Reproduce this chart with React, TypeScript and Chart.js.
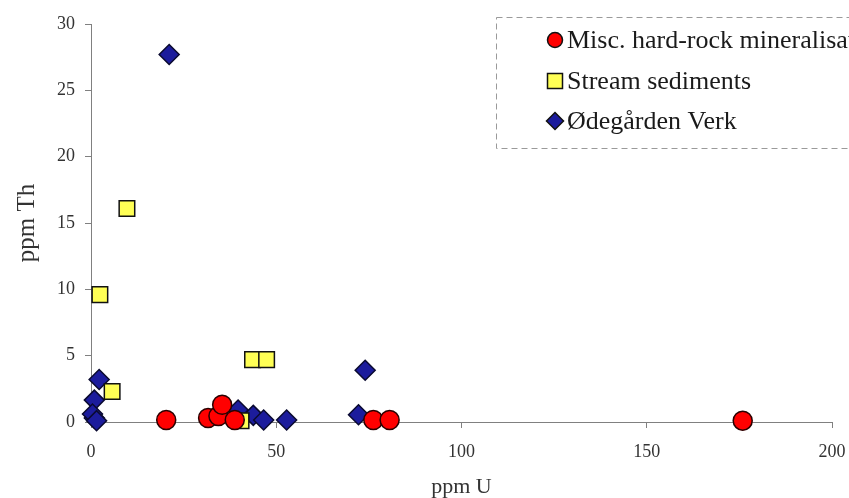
import React, { useEffect, useRef } from "react";
import { Chart, registerables } from "chart.js";

Chart.register(...registerables);

// ---- Data (ppm U, ppm Th) ----
const miscU = [20.3, 31.6, 34.4, 35.4, 38.8, 76.2, 80.6, 175.9];
const miscTh = [0.15, 0.3, 0.45, 1.3, 0.15, 0.15, 0.15, 0.1];

const streamU = [2.4, 9.7, 5.7, 43.6, 47.4, 40.5];
const streamTh = [9.6, 16.1, 2.3, 4.7, 4.7, 0.1];

const odeU = [21.1, 2.2, 0.9, 0.9, 0.4, 1.5, 39.7, 43.8, 46.6, 52.8, 72.2, 74.0];
const odeTh = [27.7, 3.2, 1.65, 0.3, 0.6, 0.1, 0.9, 0.5, 0.15, 0.15, 0.55, 3.9];

const seriesNames = ["Misc. hard-rock mineralisation", "Stream sediments", "Ødegården Verk"];
const xTicks = [0, 50, 100, 150, 200];
const yTicks = [0, 5, 10, 15, 20, 25, 30];

const toPts = (xs: number[], ys: number[]) => xs.map((x, i) => ({ x, y: ys[i] }));

const SERIF = "'Liberation Serif', 'Times New Roman', serif";

const legendPlugin = {
  id: "boxLegend",
  afterDraw(chart: any) {
    const ctx = chart.ctx;
    const ds = chart.data.datasets;
    ctx.save();
    // dashed box
    ctx.setLineDash([6, 4]);
    ctx.strokeStyle = "#9a9a9a";
    ctx.lineWidth = 1;
    ctx.strokeRect(496.5, 17.5, 400, 131);
    ctx.setLineDash([]);
    const rows = [40, 81, 121];
    const mx = 555;
    ds.forEach((d: any, i: number) => {
      const y = rows[i];
      ctx.fillStyle = d.backgroundColor;
      ctx.strokeStyle = "#111";
      ctx.lineWidth = 1.5;
      ctx.beginPath();
      if (d.pointStyle === "circle") {
        ctx.arc(mx, y, 7.5, 0, Math.PI * 2);
      } else if (d.pointStyle === "rect") {
        ctx.rect(mx - 7.5, y - 7.5, 15, 15);
      } else {
        ctx.moveTo(mx, y - 8.5);
        ctx.lineTo(mx + 8.5, y);
        ctx.lineTo(mx, y + 8.5);
        ctx.lineTo(mx - 8.5, y);
        ctx.closePath();
      }
      ctx.fill();
      ctx.stroke();
      ctx.fillStyle = "#1a1a1a";
      ctx.font = `26px ${SERIF}`;
      ctx.textBaseline = "middle";
      ctx.textAlign = "left";
      ctx.fillText(d.label, 567, y + 1);
    });
    ctx.restore();
  },
};

const bgPlugin = {
  id: "whiteBg",
  beforeDraw(chart: any) {
    const ctx = chart.ctx;
    ctx.save();
    ctx.fillStyle = "#ffffff";
    ctx.fillRect(0, 0, chart.width, chart.height);
    ctx.restore();
  },
};

export default function App() {
  const ref = useRef<HTMLCanvasElement | null>(null);

  useEffect(() => {
    document.body.style.margin = "0";
    if (!ref.current) return;
    const chart = new Chart(ref.current, {
      type: "scatter",
      data: {
        datasets: [
          {
            label: seriesNames[0],
            data: toPts(miscU, miscTh),
            pointStyle: "circle",
            pointRadius: 9.5,
            backgroundColor: "#ff0000",
            borderColor: "#2a0000",
            borderWidth: 1.5,
            clip: false,
          },
          {
            label: seriesNames[1],
            data: toPts(streamU, streamTh),
            pointStyle: "rect",
            pointRadius: 11,
            backgroundColor: "#ffff55",
            borderColor: "#111111",
            borderWidth: 1.5,
            clip: false,
          },
          {
            label: seriesNames[2],
            data: toPts(odeU, odeTh),
            pointStyle: "rectRot",
            pointRadius: 10,
            backgroundColor: "#1c1c9c",
            borderColor: "#0a0a30",
            borderWidth: 1.5,
            clip: false,
          },
        ],
      },
      options: {
        responsive: false,
        animation: false,
        layout: { padding: { top: 24, right: 17, left: 0, bottom: 0 } },
        plugins: {
          legend: { display: false },
          tooltip: { enabled: false },
        },
        scales: {
          x: {
            type: "linear",
            min: 0,
            max: 200,
            afterBuildTicks: (s: any) => {
              s.ticks = xTicks.map((v) => ({ value: v }));
            },
            afterFit: (s: any) => {
              s.height = 76;
              s.paddingRight = 0;
              s.paddingLeft = 0;
            },
            ticks: {
              color: "#333",
              font: { family: SERIF, size: 18 },
              padding: 13,
            },
            grid: {
              drawOnChartArea: false,
              drawTicks: true,
              tickLength: 6,
              color: "#808080",
            },
            border: { display: true, color: "#808080", width: 1 },
            title: {
              display: true,
              text: "ppm U",
              color: "#333",
              font: { family: SERIF, size: 22, lineHeight: 1 },
              padding: { top: 0, bottom: 0 },
            },
          },
          y: {
            type: "linear",
            min: 0,
            max: 30,
            afterBuildTicks: (s: any) => {
              s.ticks = yTicks.map((v) => ({ value: v }));
            },
            afterFit: (s: any) => {
              s.width = 91;
              s.paddingTop = 0;
              s.paddingBottom = 0;
            },
            ticks: {
              color: "#333",
              font: { family: SERIF, size: 18 },
              padding: 10,
            },
            grid: {
              drawOnChartArea: false,
              drawTicks: true,
              tickLength: 6,
              color: "#808080",
            },
            border: { display: true, color: "#808080", width: 1 },
            title: {
              display: true,
              text: "ppm Th",
              color: "#333",
              font: { family: SERIF, size: 25, lineHeight: 1.2 },
              padding: { top: 12, bottom: 0 },
            },
          },
        },
      },
      plugins: [bgPlugin, legendPlugin],
    });
    return () => chart.destroy();
  }, []);

  return (
    <div style={{ width: 849, height: 498 }}>
      <canvas ref={ref} width={849} height={498} />
    </div>
  );
}
